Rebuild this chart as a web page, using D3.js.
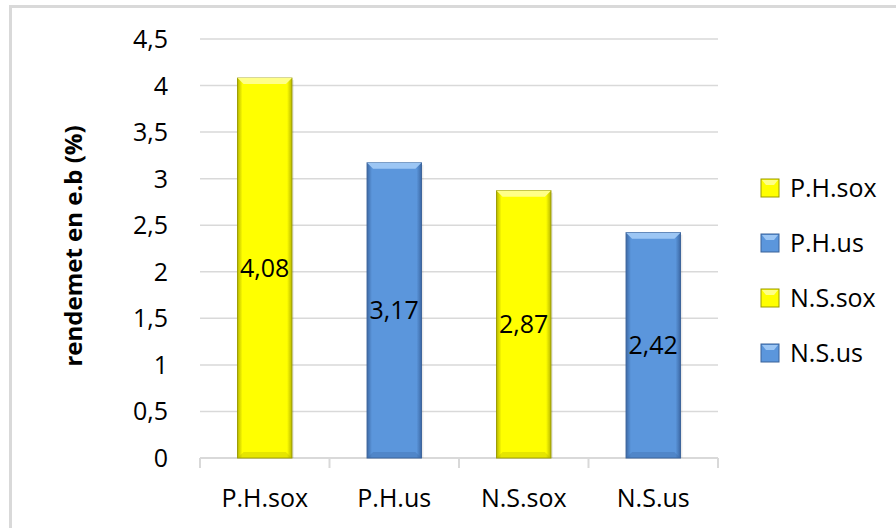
<!DOCTYPE html>
<html>
<head>
<meta charset="utf-8">
<script src="https://cdn.jsdelivr.net/npm/d3@7"></script>
<style>
  html, body { margin: 0; padding: 0; background: #fff; }
  svg { display: block; }
  text { font-family: "Open Sans", Lato, sans-serif; fill: #000; }
</style>
</head>
<body>
<svg id="chart" width="896" height="528"></svg>
<script>
// Extraction yield per sample and method
const categories = ["P.H.sox", "P.H.us", "N.S.sox", "N.S.us"];
const values = [4.08, 3.17, 2.87, 2.42];
const valueLabels = ["4,08", "3,17", "2,87", "2,42"];
const seriesKind = ["sox", "us", "sox", "us"];
const yTicks = [0, 0.5, 1, 1.5, 2, 2.5, 3, 3.5, 4, 4.5];
const yTitle = "rendemet en e.b (%)";

const palette = {
  sox: { fill: "#ffff00", light: "#ffff88", dark: "#b8b800", edge: "#9a9a00" },
  us:  { fill: "#5b96dc", light: "#9cc6f4", dark: "#3d6aa6", edge: "#3a629a" }
};

const svg = d3.select("#chart");
const defs = svg.append("defs");

// Horizontal shading for bar bodies (darker sides)
Object.entries(palette).forEach(([k, c]) => {
  const g = defs.append("linearGradient").attr("id", "body-" + k)
    .attr("x1", 0).attr("x2", 1).attr("y1", 0).attr("y2", 0);
  g.append("stop").attr("offset", "0%").attr("stop-color", c.dark);
  g.append("stop").attr("offset", "9%").attr("stop-color", c.fill);
  g.append("stop").attr("offset", "91%").attr("stop-color", c.fill);
  g.append("stop").attr("offset", "100%").attr("stop-color", c.dark);
});

// Outer chart frame
svg.append("rect")
  .attr("x", 10.5).attr("y", 6.5).attr("width", 900).attr("height", 540)
  .attr("fill", "none").attr("stroke", "#d9d9d9").attr("stroke-width", 3);

const plot = { left: 200, right: 718, top: 39, bottom: 458 };

const x = d3.scaleBand().domain(categories)
  .range([plot.left, plot.right]).paddingInner(0.58).paddingOuter(0.29);
const y = d3.scaleLinear().domain([0, 4.5]).range([plot.bottom, plot.top]);

// Gridlines
svg.append("g").selectAll("line").data(yTicks.filter(t => t > 0)).join("line")
  .attr("x1", plot.left).attr("x2", plot.right)
  .attr("y1", d => y(d)).attr("y2", d => y(d))
  .attr("stroke", "#d9d9d9").attr("stroke-width", 1.5);

// Y axis labels
const fmt = d => String(d).replace(".", ",");
svg.append("g").selectAll("text").data(yTicks).join("text")
  .attr("x", 168).attr("y", d => y(d))
  .attr("dy", "0.36em").attr("text-anchor", "end")
  .attr("font-size", 25)
  .text(fmt);

// Y axis title
svg.append("text")
  .attr("transform", `translate(82,246) rotate(-90)`)
  .attr("text-anchor", "middle").attr("font-size", 24).attr("font-weight", "bold")
  .text(yTitle);

// X axis baseline with category separators
const xAxis = svg.append("g");
xAxis.append("line")
  .attr("x1", plot.left).attr("x2", plot.right)
  .attr("y1", plot.bottom).attr("y2", plot.bottom)
  .attr("stroke", "#d9d9d9").attr("stroke-width", 2);
const sepX = d3.range(categories.length + 1).map(i => plot.left + i * (plot.right - plot.left) / categories.length);
xAxis.selectAll("line.sep").data(sepX).join("line").attr("class", "sep")
  .attr("x1", d => d).attr("x2", d => d)
  .attr("y1", plot.bottom).attr("y2", plot.bottom + 10)
  .attr("stroke", "#d9d9d9").attr("stroke-width", 2);
xAxis.selectAll("text").data(categories).join("text")
  .attr("x", d => x(d) + x.bandwidth() / 2).attr("y", 507)
  .attr("text-anchor", "middle").attr("font-size", 25)
  .text(d => d);

// Bars with bevelled top
const bars = svg.append("g").selectAll("g").data(categories).join("g");
bars.each(function (cat, i) {
  const g = d3.select(this);
  const c = palette[seriesKind[i]];
  const bx = x(cat), bw = x.bandwidth();
  const by = y(values[i]), bh = y(0) - y(values[i]);
  const bev = 6;
  g.append("rect").attr("x", bx + 2).attr("y", by + 2).attr("width", bw).attr("height", bh - 2)
    .attr("fill", "#000").attr("opacity", 0.08);
  g.append("rect").attr("x", bx).attr("y", by).attr("width", bw).attr("height", bh)
    .attr("fill", `url(#body-${seriesKind[i]})`)
    .attr("stroke", c.edge).attr("stroke-width", 1);
  g.append("path")
    .attr("d", `M${bx},${by}H${bx + bw}L${bx + bw - bev},${by + bev}H${bx + bev}Z`)
    .attr("fill", c.light);
  g.append("path")
    .attr("d", `M${bx},${by + bh}H${bx + bw}L${bx + bw - bev},${by + bh - bev}H${bx + bev}Z`)
    .attr("fill", c.dark).attr("opacity", 0.35);
  g.append("text")
    .attr("x", bx + bw / 2).attr("y", y(values[i] / 2))
    .attr("dy", "0.36em").attr("text-anchor", "middle").attr("font-size", 25)
    .text(valueLabels[i]);
});

// Legend
const legend = svg.append("g").selectAll("g").data(categories).join("g")
  .attr("transform", (d, i) => `translate(761,${179 + i * 55})`);
legend.append("rect").attr("width", 18).attr("height", 18)
  .attr("fill", (d, i) => palette[seriesKind[i]].fill)
  .attr("stroke", (d, i) => palette[seriesKind[i]].edge).attr("stroke-width", 1);
legend.append("path").attr("d", "M1,1H17L13,6H5Z")
  .attr("fill", (d, i) => palette[seriesKind[i]].light);
legend.append("text").attr("x", 29).attr("y", 9).attr("dy", "0.36em")
  .attr("font-size", 25).text(d => d);
</script>
</body>
</html>
